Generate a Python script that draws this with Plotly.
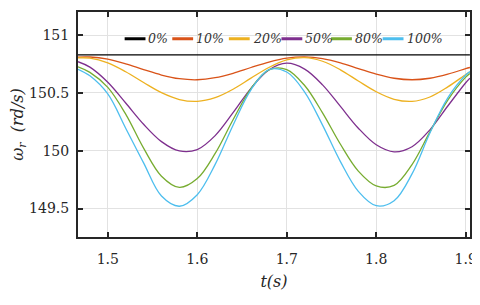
import plotly.graph_objects as go

# ---- data ----
t = [1.4667, 1.48, 1.50, 1.52, 1.54, 1.56, 1.58, 1.60, 1.62, 1.64, 1.66, 1.68,
     1.70, 1.72, 1.74, 1.76, 1.78, 1.80, 1.82, 1.84, 1.86, 1.88, 1.90, 1.9047]

w_0 = [150.83] * 24
w_10 = [150.810, 150.811, 150.792, 150.752, 150.702, 150.655, 150.623, 150.614,
        150.632, 150.670, 150.720, 150.767, 150.801, 150.812, 150.797, 150.760,
        150.711, 150.662, 150.627, 150.614, 150.627, 150.662, 150.710, 150.720]
w_20 = [150.803, 150.801, 150.760, 150.683, 150.590, 150.502, 150.443, 150.427,
        150.459, 150.532, 150.628, 150.720, 150.785, 150.805, 150.774, 150.700,
        150.603, 150.510, 150.445, 150.427, 150.465, 150.552, 150.659, 150.682]
w_50 = [150.770, 150.723, 150.592, 150.413, 150.229, 150.079, 149.998, 150.010,
        150.131, 150.329, 150.540, 150.699, 150.757, 150.706, 150.570, 150.383,
        150.195, 150.052, 149.991, 150.035, 150.181, 150.387, 150.588, 150.628]
w_80 = [150.726, 150.678, 150.548, 150.317, 150.023, 149.780, 149.683, 149.759,
        149.977, 150.268, 150.538, 150.699, 150.702, 150.564, 150.328, 150.056,
        149.824, 149.696, 149.700, 149.880, 150.163, 150.438, 150.637, 150.668]
w_100 = [150.705, 150.648, 150.491, 150.195, 149.895, 149.608, 149.520, 149.620,
         149.882, 150.221, 150.527, 150.702, 150.681, 150.508, 150.222, 149.906,
         149.649, 149.525, 149.568, 149.800, 150.154, 150.458, 150.655, 150.684]

labels = ["0%", "10%", "20%", "50%", "80%", "100%"]
series = [w_0, w_10, w_20, w_50, w_80, w_100]

x_ticks = [1.5, 1.6, 1.7, 1.8, 1.9]
x_ticktext = ["1.5", "1.6", "1.7", "1.8", "1.9"]
y_ticks = [149.5, 150, 150.5, 151]
y_ticktext = ["149.5", "150", "150.5", "151"]

# ---- styling ----
colors = ["#000000", "#D95319", "#EDB120", "#7E2F8E", "#77AC30", "#4DBEEE"]
SERIF = "DejaVu Serif"
AX = "#262626"

fig = go.Figure()
for name, ys, c in zip(labels, series, colors):
    fig.add_trace(go.Scatter(x=t, y=ys, mode="lines", name=name,
                             line=dict(color=c, width=1.3, shape="spline", smoothing=1),
                             showlegend=False))

# page body adds an 8px offset; figure sized to fit the window
OFF = 8
FW, FH = 480 - OFF, 305 - OFF
L, R, T, B = 75 - OFF, FW - (470 - OFF), 10 - OFF, FH - (237 - OFF)
W, H = FW - L - R, FH - T - B

# manual legend (layout only), positions in screen px
leg_starts_px = [122, 170, 227, 280, 330, 382]
leg_len_px = 21
leg_y_px = 37
shapes = []
annotations = []
for name, c, xs in zip(labels, colors, leg_starts_px):
    x0 = (xs - 75) / W
    x1 = (xs + leg_len_px - 75) / W
    yy = (237 - leg_y_px) / H
    shapes.append(dict(type="line", xref="paper", yref="paper", x0=x0, x1=x1,
                       y0=yy, y1=yy, line=dict(color=c, width=3)))
    annotations.append(dict(xref="paper", yref="paper", x=(xs + leg_len_px + 1 - 75) / W,
                            y=yy, xanchor="left", yanchor="middle", showarrow=False,
                            text="<i>" + name + "</i>",
                            font=dict(family=SERIF, size=12.5, color="#333333")))

fig.update_layout(
    width=FW, height=FH,
    margin=dict(l=L, r=R, t=T, b=B),
    paper_bgcolor="white", plot_bgcolor="white",
    showlegend=False,
    shapes=shapes, annotations=annotations,
    xaxis=dict(range=[1.4667, 1.9048], tickvals=x_ticks, ticktext=x_ticktext,
               ticks="inside", ticklen=5, tickwidth=1.5, tickcolor=AX,
               showline=True, linewidth=2, linecolor=AX, mirror="allticks",
               showgrid=True, gridcolor="#e2e2e2", gridwidth=1, zeroline=False,
               tickfont=dict(family=SERIF, size=14, color=AX),
               ticklabelstandoff=8,
               title=dict(text="<i>t(s)</i>", font=dict(family=SERIF, size=16, color=AX),
                          standoff=10)),
    yaxis=dict(range=[149.254, 151.2], tickvals=y_ticks, ticktext=y_ticktext,
               ticks="inside", ticklen=5, tickwidth=1.5, tickcolor=AX,
               showline=True, linewidth=2, linecolor=AX, mirror="allticks",
               showgrid=True, gridcolor="#e2e2e2", gridwidth=1, zeroline=False,
               tickfont=dict(family=SERIF, size=14, color=AX),
               ticklabelstandoff=4,
               title=dict(text="<i>ω<sub>r</sub>  (rd/s)</i>",
                          font=dict(family=SERIF, size=16, color=AX), standoff=8)),
)

fig.write_html("out.html")
